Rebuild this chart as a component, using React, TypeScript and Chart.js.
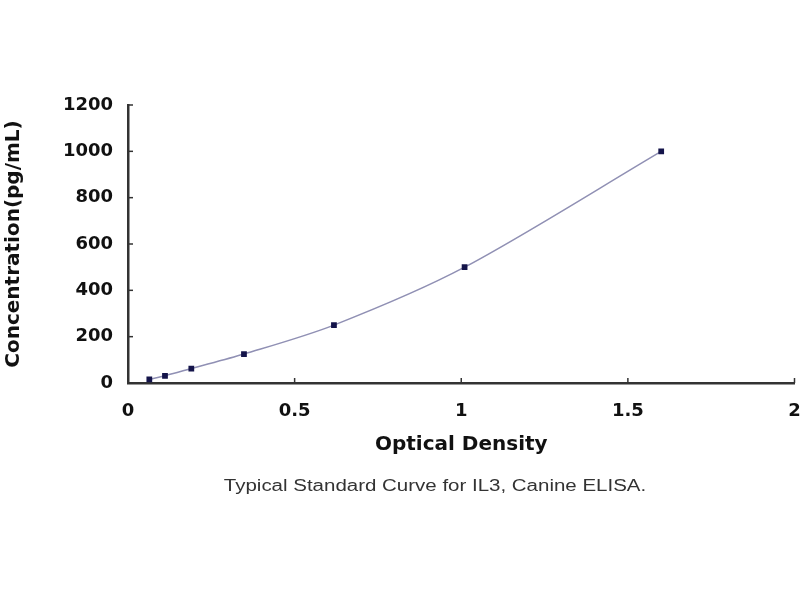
import React, { useEffect, useRef } from "react";
import { Chart, registerables } from "chart.js";

Chart.register(...registerables);

const opticalDensity = [0.064, 0.111, 0.19, 0.348, 0.618, 1.01, 1.6];
const concentration = [15.6, 31.25, 62.5, 125, 250, 500, 1000];
const xTitle = "Optical Density";
const yTitle = "Concentration(pg/mL)";
const caption = "Typical Standard Curve for IL3, Canine ELISA.";

const innerTicks = {
  id: "innerTicks",
  afterDraw(chart: any) {
    const ctx = chart.ctx;
    const xs = chart.scales.x;
    const ys = chart.scales.y;
    ctx.save();
    ctx.strokeStyle = "#333";
    ctx.lineWidth = 1.5;
    xs.ticks.forEach((t: any) => {
      const px = xs.getPixelForValue(t.value);
      ctx.beginPath();
      ctx.moveTo(px, ys.bottom);
      ctx.lineTo(px, ys.bottom - 5);
      ctx.stroke();
    });
    ys.ticks.forEach((t: any) => {
      const py = ys.getPixelForValue(t.value);
      ctx.beginPath();
      ctx.moveTo(xs.left, py);
      ctx.lineTo(xs.left + 5, py);
      ctx.stroke();
    });
    ctx.restore();
  },
};

export default function App() {
  const ref = useRef<HTMLCanvasElement>(null);
  useEffect(() => {
    if (!ref.current) return;
    const chart = new Chart(ref.current, {
      type: "scatter",
      data: {
        datasets: [
          {
            data: opticalDensity.map((v, i) => ({ x: v, y: concentration[i] })),
            showLine: true,
            tension: 0.3,
            borderColor: "#9090b4",
            borderWidth: 1.5,
            pointStyle: "rect",
            pointRadius: 3,
            pointBackgroundColor: "#14144a",
            pointBorderColor: "#14144a",
          },
        ],
      },
      options: {
        animation: false,
        responsive: false,
        layout: { padding: { top: 105, right: 5, left: 0, bottom: 0 } },
        plugins: { legend: { display: false }, tooltip: { enabled: false } },
        scales: {
          x: {
            type: "linear",
            min: 0,
            max: 2,
            ticks: {
              stepSize: 0.5,
              padding: 18,
              color: "#111",
              font: { family: "DejaVu Sans", weight: "bold", size: 18 },
              callback: (v: any) => String(v),
            },
            grid: { drawOnChartArea: false, drawTicks: false, color: "#333" },
            border: { display: true, color: "#333", width: 2.5 },
            title: {
              display: true,
              text: xTitle,
              color: "#111",
              font: { family: "DejaVu Sans", weight: "bold", size: 20 },
              padding: { top: 0, bottom: 143 },
            },
            afterFit: (s: any) => {
              s.height = 217;
              s.paddingLeft = 0;
              s.paddingRight = 0;
            },
          },
          y: {
            type: "linear",
            min: 0,
            max: 1200,
            ticks: {
              stepSize: 200,
              padding: 15,
              color: "#111",
              font: { family: "DejaVu Sans", weight: "bold", size: 18 },
              callback: (v: any) => String(v),
            },
            grid: { drawOnChartArea: false, drawTicks: false, color: "#333" },
            border: { display: true, color: "#333", width: 2.5 },
            title: {
              display: true,
              text: yTitle,
              color: "#111",
              font: { family: "DejaVu Sans", weight: "bold", size: 20 },
              padding: { top: 2, bottom: 0 },
            },
            afterFit: (s: any) => {
              s.width = 128;
              s.paddingTop = 0;
              s.paddingBottom = 0;
            },
          },
        },
      },
      plugins: [innerTicks],
    });
    return () => chart.destroy();
  }, []);
  return (
    <div style={{ position: "absolute", left: 0, top: 0, width: 800, height: 600, background: "#fff" }}>
      <canvas ref={ref} width={800} height={600} style={{ width: 800, height: 600 }} />
      <div
        style={{
          position: "absolute",
          top: 477,
          left: 0,
          width: 870,
          textAlign: "center",
          fontFamily: "'Liberation Sans', Arial, sans-serif",
          fontSize: 16,
          color: "#333",
          transform: "scaleX(1.28)",
          transformOrigin: "435px 0",
          whiteSpace: "nowrap",
        }}
      >
        {caption}
      </div>
    </div>
  );
}
